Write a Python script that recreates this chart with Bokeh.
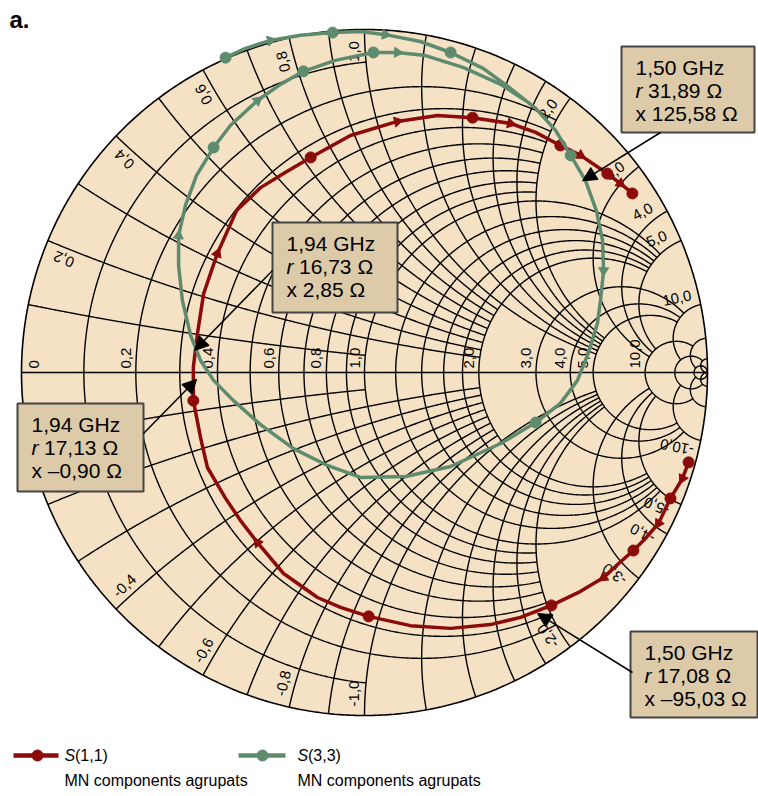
import numpy as np
from bokeh.plotting import figure
from bokeh.models import Range1d, Arrow, NormalHead
from bokeh.core.properties import value
from bokeh.embed import file_html
from bokeh.resources import INLINE

# ---------------------------------------------------------------- data
# S(1,1): reflection coefficient (real, imaginary), in order of rising frequency
s11_re = [0.945, 0.927, 0.892, 0.857, 0.819, 0.784, 0.741, 0.697, 0.630, 0.545,
          0.455, 0.367, 0.251, 0.134, 0.012, -0.070, -0.137, -0.236, -0.312, -0.362,
          -0.405, -0.458, -0.478, -0.499, -0.499, -0.487, -0.469, -0.429, -0.373, -0.303,
          -0.236, -0.157, -0.041, 0.096, 0.213, 0.315, 0.426, 0.499, 0.571, 0.630,
          0.708, 0.746, 0.781]
s11_im = [-0.262, -0.309, -0.367, -0.440, -0.484, -0.519, -0.557, -0.598, -0.638, -0.679,
          -0.714, -0.735, -0.746, -0.738, -0.711, -0.685, -0.656, -0.586, -0.496, -0.431,
          -0.367, -0.277, -0.190, -0.082, 0.015, 0.114, 0.230, 0.347, 0.472, 0.539,
          0.580, 0.627, 0.691, 0.732, 0.749, 0.743, 0.726, 0.700, 0.662, 0.633,
          0.580, 0.551, 0.522]
s11_dots = [0, 2, 5, 9, 14, 23, 31, 35, 38, 40, 42]
s11_arrows = [1, 3, 7, 18, 27, 33, 36, 39, 41]

# S(3,3): reflection coefficient (real, imaginary), in order of rising frequency
s33_re = [-0.405, -0.347, -0.274, -0.187, -0.093, -0.012, 0.061, 0.163, 0.251, 0.347,
          0.426, 0.499, 0.557, 0.601, 0.644, 0.676, 0.694, 0.697, 0.688, 0.679,
          0.653, 0.621, 0.571, 0.499, 0.397, 0.251, 0.120, -0.012, -0.108, -0.207,
          -0.303, -0.382, -0.440, -0.478, -0.507, -0.531, -0.542, -0.542, -0.522, -0.490,
          -0.440, -0.391, -0.312, -0.245, -0.178, -0.085, 0.026, 0.096, 0.178, 0.289,
          0.397, 0.469]
s33_im = [0.918, 0.945, 0.968, 0.983, 0.991, 0.994, 0.985, 0.965, 0.933, 0.886,
          0.828, 0.770, 0.706, 0.633, 0.560, 0.472, 0.385, 0.297, 0.210, 0.143,
          0.058, -0.023, -0.090, -0.146, -0.207, -0.274, -0.303, -0.306, -0.271, -0.222,
          -0.152, -0.082, -0.023, 0.035, 0.108, 0.210, 0.312, 0.399, 0.487, 0.574,
          0.656, 0.720, 0.793, 0.840, 0.878, 0.910, 0.933, 0.933, 0.924, 0.889,
          0.840, 0.793]
s33_dots = [0, 4, 8, 13, 23, 40, 44, 46]
s33_arrows = [2, 6, 17, 37, 42, 47]

# marker read-outs (ohms, reference impedance Z0)
Z0 = 50.0
marker_freq = ["1,50 GHz", "1,94 GHz", "1,94 GHz", "1,50 GHz"]
marker_r = [31.89, 16.73, 17.13, 17.08]
marker_x = [125.58, 2.85, -0.90, -95.03]

# Smith grid: circle value and how far each arc reaches
grid_values = [50, 20, 10, 5, 4, 3, 2, 1.8, 1.6, 1.4, 1.2, 1.0, 0.9, 0.8, 0.7, 0.6, 0.5, 0.4, 0.3, 0.2, 0.1]
grid_reach = [np.inf, 50, 20, 10, 10, 10, 5, 5, 5, 5, 5, 5, 2, 2, 2, 2, 2, 2, 2, 2, 1]
axis_labels = [0, 0.2, 0.4, 0.6, 0.8, 1.0, 2.0, 3.0, 4.0, 5.0, 10.0]
edge_labels = [0.2, 0.4, 0.6, 0.8, 1.0, 2.0, 3.0, 4.0, 5.0, 10.0]

legend_series = ["(1,1)", "(3,3)"]
legend_caption = "MN components agrupats"

# ---------------------------------------------------------------- layout helpers
W, H = 758, 796
CX, CY, RAD = 364.0, 372.0, 343.0   # chart centre and unit-circle radius on the page


def X(px):
    return (px - CX) / RAD


def Y(py):
    return (CY - py) / RAD


def L(n):
    return n / RAD


def gamma(z):
    return (z - 1) / (z + 1)


def comma(v, nd=1):
    return f"{v:.{nd}f}".replace(".", ",")


TAN = "#F5E1C4"
BOX = "#DCCAA8"
RED = "#8C0A0A"
GREEN = "#5E8B6E"
FONT = value("Liberation Sans")
BOX_FS = "21px"

p = figure(width=W, height=H, x_range=Range1d(X(0), X(W)), y_range=Range1d(Y(H), Y(0)),
           output_backend="svg", toolbar_location=None,
           x_axis_location=None, y_axis_location=None, min_border=0,
           outline_line_color=None, background_fill_color="white", border_fill_color="white")
p.grid.visible = False

# chart disc
th = np.linspace(0, 2 * np.pi, 721)
p.patch(np.cos(th), np.sin(th), fill_color=TAN, line_color=None)

# resistance circles and reactance arcs
gx, gy = [], []
for v, e in zip(grid_values, grid_reach):
    lim = np.pi / 2 - 1e-5 if np.isinf(e) else np.arctan(e)
    g = gamma(v + 1j * np.tan(np.linspace(-lim, lim, 700)))
    gx.append(g.real)
    gy.append(g.imag)
    s = np.tan(np.linspace(0, lim, 500))
    for sgn in (1, -1):
        g = gamma(s + 1j * sgn * v)
        gx.append(g.real)
        gy.append(g.imag)
p.multi_line(gx, gy, line_color="black", line_width=1.4)
p.line([-1, 1], [0, 0], line_color="black", line_width=1.4)
p.line(np.cos(th), np.sin(th), line_color="black", line_width=1.6)

# resistance labels along the real axis
ax_x, ax_y, ax_t = [], [], []
for r in axis_labels:
    g = (r - 1) / (r + 1)
    ax_x.append(g + (L(17) if r == 0 else -L(5)))
    ax_y.append(L(4))
    ax_t.append("0" if r == 0 else comma(r))
p.text(ax_x, ax_y, text=ax_t, angle=np.pi / 2, text_align="left", text_baseline="bottom",
       text_font=FONT, text_font_size="15px", text_color="black")

# reactance labels around the rim
ed_x, ed_y, ed_t, ed_a = [], [], [], []
for v in edge_labels:
    for sgn in (1, -1):
        xv = sgn * v
        g0 = (-1 + 1j * xv) / (1 + 1j * xv)
        side = 1j * g0 if sgn > 0 else -1j * g0
        pos = g0 - g0 * L(22) + side * L(11)
        ed_x.append(pos.real)
        ed_y.append(pos.imag)
        ed_t.append(("" if sgn > 0 else "-") + comma(v))
        ed_a.append(np.angle(g0) if sgn > 0 else np.angle(g0) + np.pi)
p.text(ed_x, ed_y, text=ed_t, angle=ed_a, text_align="center", text_baseline="middle",
       text_font=FONT, text_font_size="15px", text_color="black")


# traces
def trace(re, im, dots, arrows, color):
    p.line(re, im, line_color=color, line_width=3.5, line_join="round")
    p.scatter([re[i] for i in dots], [im[i] for i in dots], size=11, color=color)
    ang = []
    for i in arrows:
        dx = re[i + 1] - re[i - 1]
        dy = im[i + 1] - im[i - 1]
        ang.append(np.arctan2(dy, dx) - np.pi / 2)
    p.scatter([re[i] for i in arrows], [im[i] for i in arrows], marker="triangle",
              size=10, angle=ang, color=color)


trace(s11_re, s11_im, s11_dots, s11_arrows, RED)
trace(s33_re, s33_im, s33_dots, s33_arrows, GREEN)

# marker read-out boxes
boxes = [(621, 46, 754, 132), (272, 222, 397, 312), (17, 403, 143, 491), (630, 631, 757, 717)]
arrow_from = [(660, 132), (272, 270), (143, 433), (632, 672)]
for k in range(4):
    l, t, r, b = boxes[k]
    z = (marker_r[k] + 1j * marker_x[k]) / Z0
    g = gamma(z)
    p.add_layout(Arrow(end=NormalHead(size=14, fill_color="black", line_color="black"),
                       x_start=X(arrow_from[k][0]), y_start=Y(arrow_from[k][1]),
                       x_end=g.real, y_end=g.imag, line_color="black", line_width=1.5))
    p.quad(left=X(l), right=X(r), top=Y(t), bottom=Y(b), fill_color=BOX,
           line_color="#444444", line_width=2)
    tx = l + 14
    y0 = t + 21
    xs = "–" if marker_x[k] < 0 else ""
    p.text([X(tx)], [Y(y0)], text=[marker_freq[k]], text_align="left", text_baseline="middle",
           text_font=FONT, text_font_size=BOX_FS, text_color="black")
    p.text([X(tx)], [Y(y0 + 23)], text=["r"], text_align="left", text_baseline="middle",
           text_font=FONT, text_font_size=BOX_FS, text_font_style="italic", text_color="black")
    p.text([X(tx + 12.5)], [Y(y0 + 23)], text=[comma(marker_r[k], 2) + " Ω"], text_align="left",
           text_baseline="middle", text_font=FONT, text_font_size=BOX_FS, text_color="black")
    p.text([X(tx)], [Y(y0 + 46)], text=["x " + xs + comma(abs(marker_x[k]), 2) + " Ω"],
           text_align="left", text_baseline="middle", text_font=FONT, text_font_size=BOX_FS,
           text_color="black")

# legend
leg_x = [(13, 58, 37, 64), (238, 285, 262, 297)]
for (x0, x1, xd, xt), col, name in zip(leg_x, [RED, GREEN], legend_series):
    p.line([X(x0), X(x1)], [Y(755), Y(755)], line_color=col, line_width=4.5)
    p.scatter([X(xd)], [Y(755)], size=11, color=col)
    p.text([X(xt)], [Y(755)], text=["S"], text_align="left", text_baseline="middle",
           text_font=FONT, text_font_size="16px", text_font_style="italic", text_color="black")
    p.text([X(xt + 10.5)], [Y(755)], text=[name], text_align="left", text_baseline="middle",
           text_font=FONT, text_font_size="16px", text_color="black")
    p.text([X(xt)], [Y(780)], text=[legend_caption], text_align="left", text_baseline="middle",
           text_font=FONT, text_font_size="16px", text_color="black")

# panel tag
p.text([X(9)], [Y(5)], text=["a."], text_align="left", text_baseline="top",
       text_font=FONT, text_font_size="24px", text_font_style="bold", text_color="black")

open("out.html", "w").write(file_html(p, INLINE))
